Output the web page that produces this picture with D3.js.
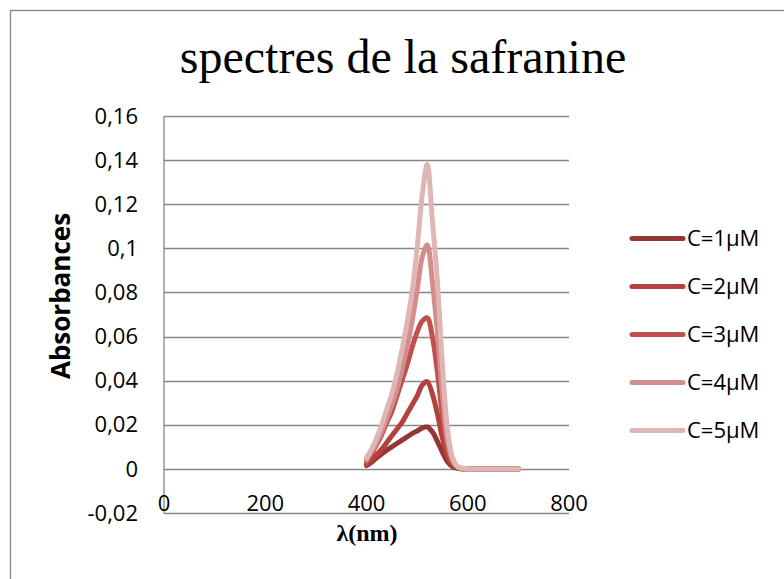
<!DOCTYPE html>
<html>
<head>
<meta charset="utf-8">
<script src="https://cdn.jsdelivr.net/npm/d3@7"></script>
<style>
  body { margin: 0; background: #fff; }
  svg { display: block; }
</style>
</head>
<body>
<svg></svg>
<script>
var width = 784;
var height = 579;

// wavelengths (nm), one point every 10 nm
var lambdas = [400, 410, 420, 430, 440, 450, 460, 470, 480, 490, 500, 510, 520, 530, 540, 550,
               560, 570, 580, 590, 600, 610, 620, 630, 640, 650, 660, 670, 680, 690, 700];

var c1 = [0.0015, 0.003, 0.005, 0.0068, 0.0085, 0.010, 0.0115, 0.013, 0.0145, 0.016, 0.0172, 0.0185, 0.019, 0.0168, 0.0125, 0.0075,
          0.0032, 0.001, 0.0003, 0, 0, 0, 0, 0, 0, 0, 0, 0, 0, 0, 0];
var c2 = [0.002, 0.004, 0.0065, 0.009, 0.012, 0.015, 0.018, 0.021, 0.025, 0.029, 0.033, 0.038, 0.0396, 0.034, 0.025, 0.014,
          0.006, 0.002, 0.0005, 0, 0, 0, 0, 0, 0, 0, 0, 0, 0, 0, 0];
var c3 = [0.003, 0.007, 0.011, 0.0155, 0.021, 0.026, 0.033, 0.040, 0.047, 0.055, 0.062, 0.067, 0.0685, 0.060, 0.044, 0.024,
          0.009, 0.003, 0.0008, 0, 0, 0, 0, 0, 0, 0, 0, 0, 0, 0, 0];
var c4 = [0.004, 0.008, 0.012, 0.017, 0.023, 0.029, 0.036, 0.045, 0.055, 0.067, 0.081, 0.096, 0.1015, 0.085, 0.062, 0.034,
          0.013, 0.004, 0.001, 0, 0, 0, 0, 0, 0, 0, 0, 0, 0, 0, 0];
var c5 = [0.005, 0.009, 0.014, 0.020, 0.027, 0.034, 0.043, 0.054, 0.066, 0.080, 0.100, 0.124, 0.138, 0.113, 0.085, 0.047,
          0.018, 0.005, 0.001, 0.0003, 0, 0, 0, 0, 0, 0, 0, 0, 0, 0, 0];

var seriesNames = ["C=1µM", "C=2µM", "C=3µM", "C=4µM", "C=5µM"];
var seriesValues = [c1, c2, c3, c4, c5];
var seriesColors = ["#943634", "#b3413d", "#c0504d", "#d18e8c", "#e0b6b5"];

var xTicks = [0, 200, 400, 600, 800];
var yTicks = [-0.02, 0, 0.02, 0.04, 0.06, 0.08, 0.1, 0.12, 0.14, 0.16];

var svg = d3.select("svg")
            .attr("width", width)
            .attr("height", height);

// chart frame (right and bottom edges fall outside the picture)
svg.append("rect")
   .attr("x", 10.5)
   .attr("y", 10.5)
   .attr("width", 820)
   .attr("height", 620)
   .attr("fill", "none")
   .attr("stroke", "#868686")
   .attr("stroke-width", 1.3);

var x = d3.scaleLinear()
          .domain([0, 800])
          .range([164, 569]);

var y = d3.scaleLinear()
          .domain([-0.02, 0.16])
          .range([513, 116]);

var fmt = function(d) { return String(Math.round(d * 100) / 100).replace(".", ","); };

// horizontal gridlines
svg.append("g")
   .selectAll("line")
   .data(yTicks.filter((d) => d > -0.02))
   .enter().append("line")
   .attr("x1", x(0))
   .attr("x2", x(800))
   .attr("y1", (d) => Math.round(y(d)) + 0.5)
   .attr("y2", (d) => Math.round(y(d)) + 0.5)
   .attr("stroke", "#868686")
   .attr("stroke-width", 1.3);

// axes lines
svg.append("line")
   .attr("x1", x(0)).attr("x2", x(0))
   .attr("y1", y(0.16)).attr("y2", y(-0.02))
   .attr("stroke", "#868686").attr("stroke-width", 1.3);
svg.append("line")
   .attr("x1", x(0)).attr("x2", x(800))
   .attr("y1", Math.round(y(-0.02)) + 0.5).attr("y2", Math.round(y(-0.02)) + 0.5)
   .attr("stroke", "#868686").attr("stroke-width", 1.3);

// y tick labels
svg.append("g")
   .selectAll("text")
   .data(yTicks)
   .enter().append("text")
   .attr("x", 138)
   .attr("y", (d) => y(d))
   .attr("dy", "0.35em")
   .attr("text-anchor", "end")
   .attr("font-family", "Open Sans")
   .attr("font-size", 22)
   .attr("fill", "#000")
   .text(fmt);

// x tick labels
svg.append("g")
   .selectAll("text")
   .data(xTicks)
   .enter().append("text")
   .attr("x", (d) => x(d))
   .attr("y", 511)
   .attr("text-anchor", "middle")
   .attr("font-family", "Open Sans")
   .attr("font-size", 22)
   .attr("fill", "#000")
   .text((d) => d);

// curves
var line = d3.line()
             .x((d) => x(d[0]))
             .y((d) => y(d[1]))
             .curve(d3.curveCatmullRom.alpha(0.5));

svg.append("g")
   .selectAll("path")
   .data(seriesValues)
   .enter().append("path")
   .attr("d", (vals) => line(lambdas.map((l, i) => [l, vals[i]])))
   .attr("fill", "none")
   .attr("stroke", (d, i) => seriesColors[i])
   .attr("stroke-width", 5)
   .attr("stroke-linecap", "round")
   .attr("stroke-linejoin", "round");

// legend
var legend = svg.append("g")
                .selectAll("g")
                .data(seriesNames)
                .enter().append("g")
                .attr("transform", (d, i) => "translate(0," + (238.5 + i * 48) + ")");

legend.append("line")
      .attr("x1", 632)
      .attr("x2", 683)
      .attr("stroke", (d, i) => seriesColors[i])
      .attr("stroke-width", 5)
      .attr("stroke-linecap", "round");

legend.append("text")
      .attr("x", 687)
      .attr("dy", "0.35em")
      .attr("font-family", "Open Sans")
      .attr("font-size", 22)
      .attr("fill", "#000")
      .text((d) => d);

// titles
svg.append("text")
   .attr("x", 403)
   .attr("y", 73)
   .attr("text-anchor", "middle")
   .attr("font-family", "Liberation Serif")
   .attr("font-size", 48)
   .text("spectres de la safranine");

svg.append("text")
   .attr("transform", "translate(70,296) rotate(-90)")
   .attr("text-anchor", "middle")
   .attr("font-family", "Open Sans")
   .attr("font-weight", "bold")
   .attr("font-size", 26)
   .text("Absorbances");

svg.append("text")
   .attr("x", 367)
   .attr("y", 541)
   .attr("text-anchor", "middle")
   .attr("font-family", "Liberation Serif")
   .attr("font-weight", "bold")
   .attr("font-size", 24)
   .text("λ(nm)");
</script>
</body>
</html>
